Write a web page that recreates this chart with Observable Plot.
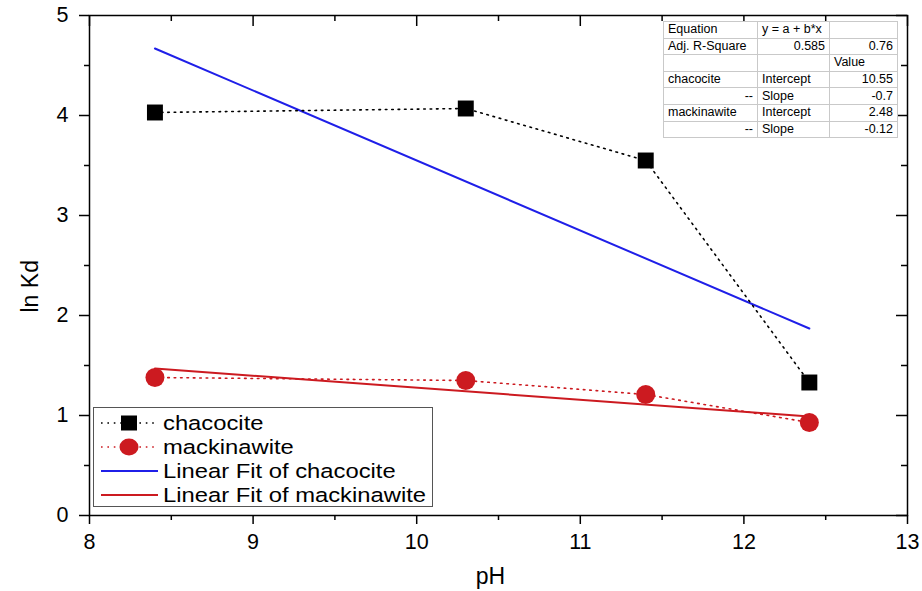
<!DOCTYPE html>
<html>
<head>
<meta charset="utf-8">
<script src="https://cdn.jsdelivr.net/npm/d3@7"></script>
<script src="https://cdn.jsdelivr.net/npm/@observablehq/plot@0.6"></script>
<style>
  html, body { margin: 0; padding: 0; background: #fff; }
  #wrap { position: relative; width: 922px; height: 591px; font-family: "Liberation Sans", Arial, sans-serif; }
  #legend { position: absolute; left: 93px; top: 407px; width: 338px; height: 98px; border: 1px solid #555; background: #fff; box-sizing: content-box; }
  #legend .row { position: absolute; left: 0; height: 24px; display: flex; align-items: center; }
  #legend .row svg { display: block; }
  #legend .row span { font-size: 20.5px; display: inline-block; transform: scaleX(1.16); transform-origin: left center; white-space: nowrap; margin-left: 5px; }
  #tbl { position: absolute; left: 663px; top: 21px; border-collapse: collapse; font-size: 12.5px; border: 1px solid #333; background: #fff; table-layout: fixed; width: 234px; }
  #tbl td { border: 1px solid #c9c9c9; height: 16.6px; padding: 0 4px; line-height: 15px; white-space: nowrap; overflow: hidden; box-sizing: border-box; }
  #tbl td.r { text-align: right; }
</style>
</head>
<body>
<div id="wrap"></div>
<script>
// ---- data ----
const pH = [8.4, 10.3, 11.4, 12.4];
const chacocite = [4.03, 4.07, 3.55, 1.33];
const mackinawite = [1.38, 1.35, 1.21, 0.93];
const fitX = [8.4, 12.4];
const fitChacocite = [4.67, 1.87];
const fitMackinawite = [1.47, 0.99];
const seriesNames = ["chacocite", "mackinawite", "Linear Fit of chacocite", "Linear Fit of mackinawite"];
const xTicks = [8, 9, 10, 11, 12, 13];
const xMinor = [8.5, 9.5, 10.5, 11.5, 12.5];
const yTicks = [0, 1, 2, 3, 4, 5];
const yMinor = [0.5, 1.5, 2.5, 3.5, 4.5];
// fit table (as shown in the chart)
const tableCol1 = ["Equation", "Adj. R-Square", "", "chacocite", "--", "mackinawite", "--"];
const tableCol2 = ["y = a + b*x", "0.585", "", "Intercept", "Slope", "Intercept", "Slope"];
const tableCol3 = ["", "0.76", "Value", "10.55", "-0.7", "2.48", "-0.12"];

const colors = { chac: "#000000", mack: "#cc1a20", fitChac: "#1f1fe8", fitMack: "#cc1a20" };

const chacData = pH.map((x, i) => ({ x, y: chacocite[i] }));
const mackData = pH.map((x, i) => ({ x, y: mackinawite[i] }));
const fitChacData = fitX.map((x, i) => ({ x, y: fitChacocite[i] }));
const fitMackData = fitX.map((x, i) => ({ x, y: fitMackinawite[i] }));

const W = 922, H = 591, mL = 89, mR = 15, mT = 15, mB = 76;
const pw = W - mL - mR, ph = H - mT - mB;

const chart = Plot.plot({
  width: W, height: H,
  marginLeft: mL, marginRight: mR, marginTop: mT, marginBottom: mB,
  style: { fontFamily: "'Liberation Sans', Arial, sans-serif", fontSize: "21px", color: "#000", background: "#fff", overflow: "visible" },
  x: { domain: [8, 13] },
  y: { domain: [0, 5] },
  marks: [
    // bottom axis
    Plot.axisX({ ticks: xTicks, tickSize: 9, tickPadding: 9, tickFormat: d => String(d), label: null, strokeWidth: 1.5, fontSize: 21.5 }),
    Plot.axisX({ ticks: xMinor, tickSize: 5, tickFormat: () => "", label: null, strokeWidth: 1.5 }),
    // left axis
    Plot.axisY({ ticks: yTicks, tickSize: 10, tickPadding: 11, tickFormat: d => String(d), label: null, strokeWidth: 1.5, fontSize: 21.5 }),
    Plot.axisY({ ticks: yMinor, tickSize: 5, tickFormat: () => "", label: null, strokeWidth: 1.5 }),
    // top inward ticks
    Plot.tickX(xTicks, { x: d => d, insetBottom: ph - 11, stroke: "#000", strokeWidth: 1.5 }),
    Plot.tickX(xMinor, { x: d => d, insetBottom: ph - 6, stroke: "#000", strokeWidth: 1.5 }),
    // right inward ticks
    Plot.tickY(yTicks, { y: d => d, insetLeft: pw - 11, stroke: "#000", strokeWidth: 1.5 }),
    Plot.tickY(yMinor, { y: d => d, insetLeft: pw - 6, stroke: "#000", strokeWidth: 1.5 }),
    Plot.frame({ stroke: "#000", strokeWidth: 1.5 }),
    // axis titles
    Plot.text(["pH"], { frameAnchor: "bottom", dy: 68, dx: -8, fontSize: 23, text: d => d }),
    Plot.text(["ln Kd"], { frameAnchor: "left", rotate: -90, dx: -59, dy: 47, fontSize: 23, text: d => d }),
    // fits
    Plot.line(fitChacData, { x: "x", y: "y", stroke: colors.fitChac, strokeWidth: 2 }),
    Plot.line(fitMackData, { x: "x", y: "y", stroke: colors.fitMack, strokeWidth: 2 }),
    // dotted connectors
    Plot.line(chacData, { x: "x", y: "y", stroke: colors.chac, strokeWidth: 1.6, strokeDasharray: "1.6,4.8" }),
    Plot.line(mackData, { x: "x", y: "y", stroke: colors.mack, strokeWidth: 1.6, strokeDasharray: "1.6,4.8" }),
    // markers
    Plot.dot(chacData, { x: "x", y: "y", symbol: "square", r: 9, fill: colors.chac, stroke: "none" }),
    Plot.dot(mackData, { x: "x", y: "y", symbol: "circle", r: 9.5, fill: colors.mack, stroke: "none" })
  ]
});

const wrap = document.getElementById("wrap");
wrap.appendChild(chart);

// ---- legend ----
const legend = document.createElement("div");
legend.id = "legend";
const legendDefs = [
  { name: seriesNames[0], color: colors.chac, dash: "1.6,4.8", sym: "square" },
  { name: seriesNames[1], color: colors.mack, dash: "1.6,4.8", sym: "circle" },
  { name: seriesNames[2], color: colors.fitChac, dash: null, sym: null },
  { name: seriesNames[3], color: colors.fitMack, dash: null, sym: null }
];
legendDefs.forEach((d, i) => {
  const row = document.createElement("div");
  row.className = "row";
  row.style.top = (3 + i * 24) + "px";
  const ns = "http://www.w3.org/2000/svg";
  const s = document.createElementNS(ns, "svg");
  s.setAttribute("width", 64); s.setAttribute("height", 24);
  const ln = document.createElementNS(ns, "line");
  ln.setAttribute("x1", 7); ln.setAttribute("x2", 64); ln.setAttribute("y1", 12); ln.setAttribute("y2", 12);
  ln.setAttribute("stroke", d.color);
  ln.setAttribute("stroke-width", d.dash ? 1.6 : 2);
  if (d.dash) ln.setAttribute("stroke-dasharray", d.dash);
  s.appendChild(ln);
  if (d.sym === "square") {
    const r = document.createElementNS(ns, "rect");
    r.setAttribute("x", 27); r.setAttribute("y", 4.5); r.setAttribute("width", 16); r.setAttribute("height", 15);
    r.setAttribute("fill", d.color); s.appendChild(r);
  } else if (d.sym === "circle") {
    const c = document.createElementNS(ns, "ellipse");
    c.setAttribute("cx", 35); c.setAttribute("cy", 12); c.setAttribute("rx", 9.5); c.setAttribute("ry", 8.5);
    c.setAttribute("fill", d.color); s.appendChild(c);
  }
  row.appendChild(s);
  const t = document.createElement("span");
  t.textContent = d.name;
  row.appendChild(t);
  legend.appendChild(row);
});
wrap.appendChild(legend);

// ---- fit table ----
const tbl = document.createElement("table");
tbl.id = "tbl";
const colW = [94, 72, 68];
tableCol1.forEach((c1, i) => {
  const tr = document.createElement("tr");
  [c1, tableCol2[i], tableCol3[i]].forEach((v, j) => {
    const td = document.createElement("td");
    td.textContent = v;
    if (i === 0) td.style.width = colW[j] + "px";
    const isNum = /^-?[0-9.]+$/.test(v) || v === "--";
    if (isNum) td.className = "r";
    tr.appendChild(td);
  });
  tbl.appendChild(tr);
});
wrap.appendChild(tbl);
</script>
</body>
</html>
